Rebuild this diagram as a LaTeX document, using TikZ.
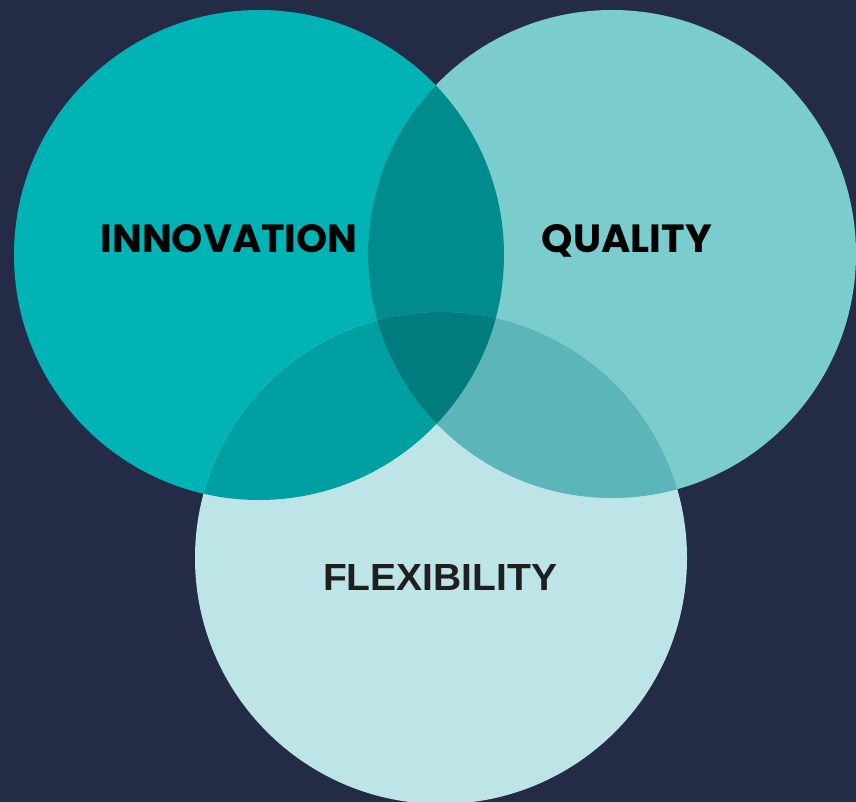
\documentclass[tikz,border=0pt]{standalone}
\usepackage{fontspec}
\setmainfont{Poppins}
\newfontfamily\flexfont{Liberation Sans}
\definecolor{bgnavy}{HTML}{242B47}
\definecolor{cinn}{HTML}{00B3B5}
\definecolor{cqual}{HTML}{7ACCCD}
\definecolor{cflex}{HTML}{BDE5E7}
\definecolor{cIQ}{HTML}{008C8D}
\definecolor{cIF}{HTML}{00A0A2}
\definecolor{cQF}{HTML}{5BB5B9}
\definecolor{cIQF}{HTML}{007C7F}
\tikzset{
  label/.style={inner sep=0pt, text=black, font=\bfseries},
}
\def\cInn{(259,255) circle[radius=245pt]}
\def\cQual{(612,254) circle[radius=244pt]}
\def\cFlex{(441,558) circle[radius=246pt]}
\begin{document}
\begin{tikzpicture}[x=1pt,y=-1pt]
\useasboundingbox (0,0) rectangle (856,802);
\fill[bgnavy] (0,0) rectangle (856,802);
\clip (0,0) rectangle (856,802);
\fill[cinn] \cInn;
\fill[cqual] \cQual;
\fill[cflex] \cFlex;
\begin{scope}\clip \cInn; \fill[cIQ] \cQual; \end{scope}
\begin{scope}\clip \cInn; \fill[cIF] \cFlex; \end{scope}
\begin{scope}\clip \cQual; \fill[cQF] \cFlex; \end{scope}
\begin{scope}\clip \cInn; \clip \cQual; \fill[cIQF] \cFlex; \end{scope}
\node[label, anchor=base] (inn) at (229,253) {\resizebox{257pt}{28pt}{INNOVATION}};
\node[label, anchor=base] (qual) at (627,253) {\resizebox{170pt}{28pt}{QUALITY}};
\node[label, anchor=base, text=black!88] (flex) at (440,590) {\flexfont\bfseries\resizebox{234pt}{26pt}{FLEXIBILITY}};
\end{tikzpicture}
\end{document}
